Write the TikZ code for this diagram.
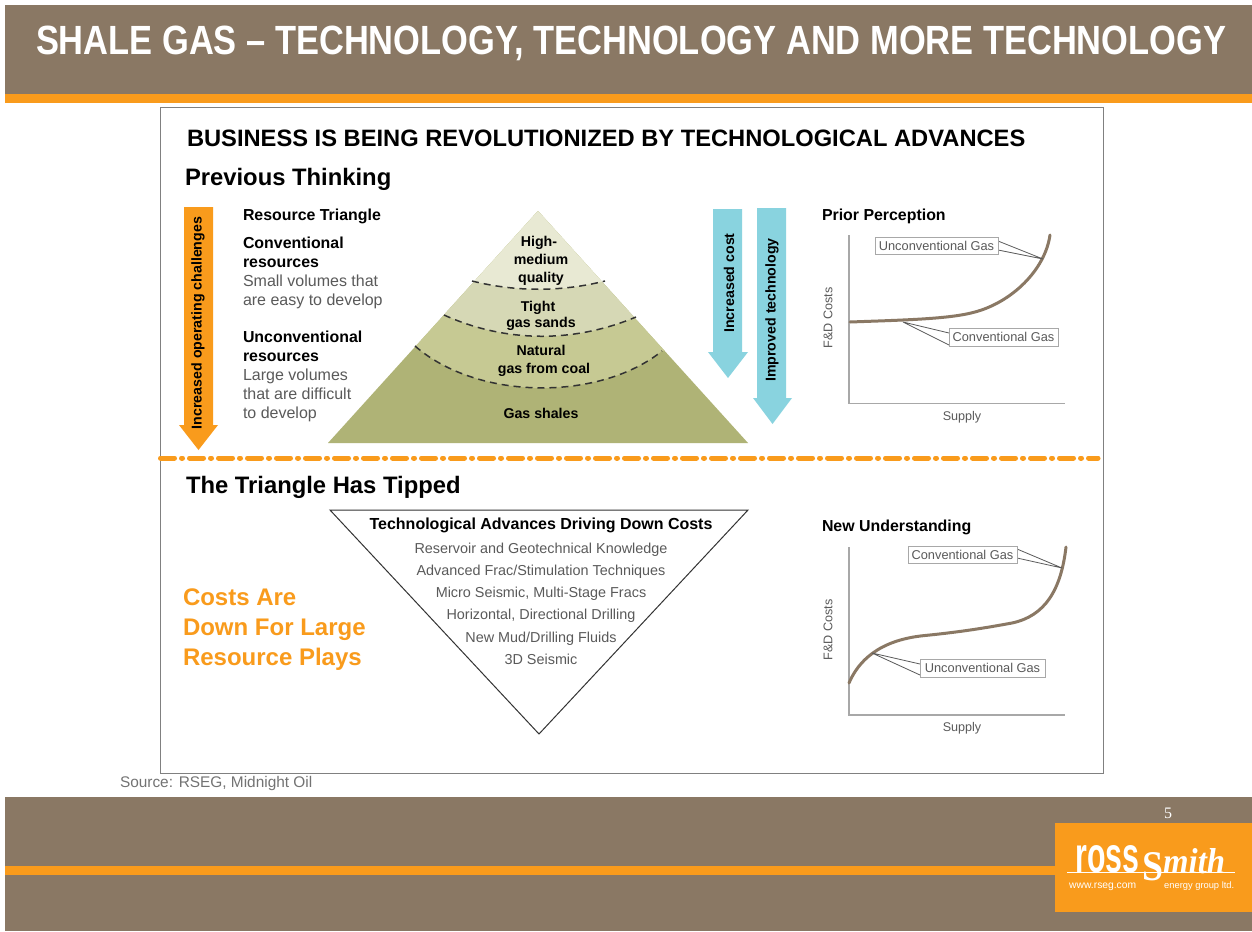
\documentclass[tikz,border=0pt]{standalone}
\usepackage{fontspec}
\usepackage{graphicx}
\setmainfont{Liberation Sans}
\newfontfamily\serifface{Liberation Serif}
\definecolor{brownbar}{HTML}{8A7864}
\definecolor{orangebar}{HTML}{F99B1C}
\definecolor{bluearrow}{HTML}{89D3DF}
\definecolor{graytext}{HTML}{5A5A5A}
\definecolor{axisgray}{HTML}{A8A8A8}
\definecolor{bandA}{HTML}{E8E9D3}
\definecolor{bandB}{HTML}{D6D8B5}
\definecolor{bandC}{HTML}{C6C993}
\definecolor{bandD}{HTML}{AFB376}
\tikzset{
  lbl/.style={inner sep=0pt,outer sep=0pt,anchor=base west},
  boldl/.style={lbl,font=\fontsize{15.9}{18}\selectfont\bfseries,text=black},
  grayl/.style={lbl,font=\fontsize{16}{18}\selectfont,text=graytext},
  tribold/.style={inner sep=0pt,anchor=base,font=\fontsize{14.2}{16}\selectfont\bfseries,text=black},
  trigray/.style={inner sep=0pt,anchor=base,font=\fontsize{14.4}{16}\selectfont,text=graytext},
  head/.style={lbl,font=\fontsize{23.8}{26}\selectfont\bfseries,text=black},
  costl/.style={lbl,font=\fontsize{24}{26}\selectfont\bfseries,text=orangebar},
  arrowl/.style={inner sep=0pt,rotate=90,anchor=center,font=\fontsize{14.2}{16}\selectfont\bfseries,text=black},
  axis/.style={draw=axisgray,line width=1.6pt},
  gascurve/.style={draw=brownbar,line width=3pt,line cap=round},
  callbox/.style={draw=axisgray,fill=white,line width=1pt,inner sep=0pt,text=graytext,font=\fontsize{12.8}{14}\selectfont},
  callline/.style={draw=graytext,line width=.8pt},
  small/.style={inner sep=0pt,anchor=center,text=graytext,font=\fontsize{12.6}{14}\selectfont},
  logo/.style={inner sep=0pt,anchor=base west,text=white},
  banddash/.style={draw=black!80,line width=1.5pt,dash pattern=on 7pt off 5pt},
}
\begin{document}
\begin{tikzpicture}[x=1pt,y=-1pt]
\useasboundingbox (0,0) rectangle (1252,931);
\fill[white] (0,0) rectangle (1252,931);
% header and footer bars
\fill[brownbar] (5,5) rectangle (1252,94);
\fill[orangebar] (5,94) rectangle (1252,103);
\fill[brownbar] (5,797) rectangle (1252,931);
\fill[orangebar] (5,866) rectangle (1252,875);
\node[lbl,text=white] (title) at (36,55) {\resizebox{1190pt}{28.5pt}{\bfseries SHALE GAS – TECHNOLOGY, TECHNOLOGY AND MORE TECHNOLOGY}};
% panel
\draw[draw=gray,line width=1pt,fill=white] (160.5,107.5) rectangle (1103,773);
\node[lbl,font=\fontsize{23.7}{26}\selectfont\bfseries] (maintitle) at (187,146.5) {BUSINESS IS BEING REVOLUTIONIZED BY TECHNOLOGICAL ADVANCES};
\node[head] (prev) at (185,185) {Previous Thinking};
% orange arrow
\fill[orangebar] (184,207) -- (213,207) -- (213,425) -- (218,425) -- (198.5,450) -- (179,425) -- (184,425) -- cycle;
\node[arrowl] (opch) at (198,323) {Increased operating challenges};
% left text
\node[boldl] (rt) at (243,220.5) {Resource Triangle};
\node[boldl] (c1) at (243,248) {Conventional};
\node[boldl] (c2) at (243,267) {resources};
\node[grayl] (c3) at (243,286) {Small volumes that};
\node[grayl] (c4) at (243,305) {are easy to develop};
\node[boldl] (u1) at (243,342) {Unconventional};
\node[boldl] (u2) at (243,361) {resources};
\node[grayl] (u3) at (243,380) {Large volumes};
\node[grayl] (u4) at (243,399) {that are difficult};
\node[grayl] (u5) at (243,418) {to develop};
% pyramid
\begin{scope}
\clip (538,211) -- (748,443) -- (328,443) -- cycle;
\fill[bandD] (300,200) rectangle (780,450);
\fill[bandC] (300,200) -- (300,346) -- (415,346) .. controls (478,401) and (600,401) .. (662,351) -- (780,351) -- (780,200) -- cycle;
\fill[bandB] (300,200) -- (300,315) -- (444,315) .. controls (506,343) and (574,343) .. (636,317) -- (780,317) -- (780,200) -- cycle;
\fill[bandA] (300,200) -- (300,281) -- (472,281) .. controls (516,292) and (561,292) .. (605,281) -- (780,281) -- (780,200) -- cycle;
\end{scope}
\draw[banddash] (472,281) .. controls (516,292) and (561,292) .. (605,281);
\draw[banddash] (444,315) .. controls (506,343) and (574,343) .. (636,317);
\draw[banddash] (415,346) .. controls (478,401) and (600,401) .. (662,351);
\node[tribold] (t1) at (539,246) {High-};
\node[tribold] (t2) at (541,264) {medium};
\node[tribold] (t3) at (541,282) {quality};
\node[tribold] (t4) at (538,311) {Tight};
\node[tribold] (t5) at (541,327) {gas sands};
\node[tribold] (t6) at (541,355) {Natural};
\node[tribold] (t7) at (544,373) {gas from coal};
\node[tribold] (t8) at (541,418) {Gas shales};
% blue arrows
\fill[bluearrow] (713,209) -- (742,209) -- (742,352) -- (748,352) -- (728,378) -- (708,352) -- (713,352) -- cycle;
\node[arrowl] (ic) at (729,283) {Increased cost};
\fill[bluearrow] (757,208) -- (786,208) -- (786,398) -- (792,398) -- (772.5,424) -- (753,398) -- (757,398) -- cycle;
\node[arrowl] (it) at (772,310) {Improved technology};
% prior perception
\node[boldl] (pp) at (822,220) {Prior Perception};
\draw[axis] (849,235) -- (849,403.5) -- (1065,403.5);
\draw[gascurve] (850,322) .. controls (905,320) and (950,319) .. (975,312) .. controls (1012,302) and (1045,270) .. (1050,235);
\coordinate (ppu) at (1043,259);
\coordinate (ppc) at (903,322);
\draw[callline] (ppu) -- (998,241) (ppu) -- (998,250);
\draw[callline] (ppc) -- (949,333) (ppc) -- (949,345);
\node[callbox,minimum width=123pt,minimum height=17pt] (ppub) at (936.5,245.5) {Unconventional Gas};
\node[callbox,minimum width=109pt,minimum height=18pt] (ppcb) at (1003.5,337) {Conventional Gas};
\node[small,rotate=90] (ppy) at (828,318) {F\&D Costs};
\node[small] (ppx) at (962,417) {Supply};
% separator
\draw[orangebar,line width=5pt,line cap=round,dash pattern=on 14pt off 7pt on 1pt off 7pt] (160.5,458) -- (1098,458);
\node[head] (tipped) at (186,493) {The Triangle Has Tipped};
% inverted triangle
\draw[draw=black!80,line width=1pt] (330,510) -- (748,510) -- (539,734) -- cycle;
\node[tribold,font=\fontsize{16}{18}\selectfont\bfseries] (a0) at (541,529.5) {Technological Advances Driving Down Costs};
\node[trigray] (a1) at (541,553) {Reservoir and Geotechnical Knowledge};
\node[trigray] (a2) at (541,575) {Advanced Frac/Stimulation Techniques};
\node[trigray] (a3) at (541,597) {Micro Seismic, Multi-Stage Fracs};
\node[trigray] (a4) at (541,619) {Horizontal, Directional Drilling};
\node[trigray] (a5) at (541,642) {New Mud/Drilling Fluids};
\node[trigray] (a6) at (541,664) {3D Seismic};
% costs
\node[costl] (k1) at (183,605) {Costs Are};
\node[costl] (k2) at (183,635) {Down For Large};
\node[costl] (k3) at (183,665) {Resource Plays};
% new understanding
\node[boldl] (nu) at (822,531.5) {New Understanding};
\draw[axis] (849,547) -- (849,715) -- (1065,715);
\draw[gascurve] (849,683) .. controls (858,662) and (878,640) .. (925,635.5) .. controls (960,632) and (985,628) .. (1012,623) .. controls (1045,616) and (1061,590) .. (1066,547);
\coordinate (nuc) at (1062,568);
\coordinate (nuu) at (872,653);
\draw[callline] (nuc) -- (1017,549) (nuc) -- (1017,558);
\draw[callline] (nuu) -- (920,664) (nuu) -- (920,675);
\node[callbox,minimum width=109pt,minimum height=17pt] (nucb) at (962.5,554.5) {Conventional Gas};
\node[callbox,minimum width=125pt,minimum height=18pt] (nuub) at (982.5,668) {Unconventional Gas};
\node[small,rotate=90] (nuy) at (828,630) {F\&D Costs};
\node[small] (nux) at (962,728) {Supply};
% footer
\node[lbl,font=\fontsize{15.4}{17}\selectfont,text=black!55] (src) at (120,787) {Source: RSEG, Midnight Oil};
\node[inner sep=0pt,anchor=center,text=white,font=\fontsize{16}{18}\selectfont\serifface] (pg) at (1168,813.5) {5};
\fill[orangebar] (1055,823) rectangle (1252,912);
\draw[white,line width=.8pt] (1067,872) -- (1235,872);
\node[logo] (ross) at (1075,872) {\resizebox{64pt}{27pt}{\bfseries ross}};
\node[logo] (bigs) at (1142,880) {\resizebox{21pt}{28pt}{\serifface\bfseries S}};
\node[logo] (smith) at (1163,873) {\resizebox{62pt}{25pt}{\serifface\bfseries\itshape mith}};
\node[logo] (www) at (1069,888) {\resizebox{67pt}{!}{www.rseg.com}};
\node[logo] (grp) at (1164,888) {\resizebox{70pt}{!}{energy group ltd.}};
\end{tikzpicture}
\end{document}
